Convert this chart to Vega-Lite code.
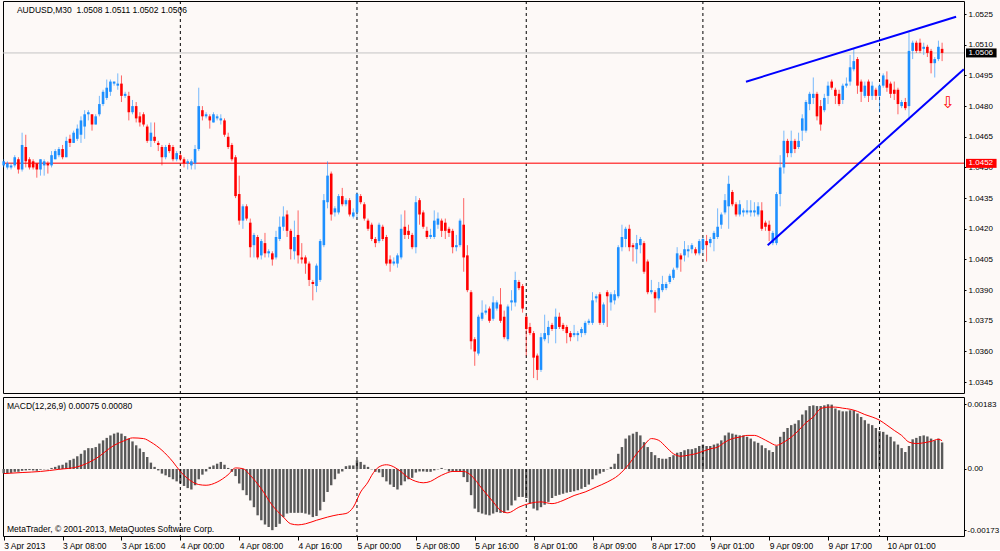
{
  "$schema": "https://vega.github.io/schema/vega-lite/v6.json",
  "background": "#fdf9f7",
  "padding": {"left": 1, "top": 0, "right": 0, "bottom": 0},
  "autosize": {"type": "pad"},
  "spacing": 2,
  "config": {
    "view": {"stroke": "#000000", "strokeWidth": 1},
    "scale": {"continuousPadding": 0},
    "font": "Liberation Sans",
    "axis": {"labelFont": "Liberation Sans", "labelFontSize": 8.5, "labelColor": "#000000", "tickColor": "#000000", "domainColor": "#000000", "grid": false, "labelOverlap": false},
    "text": {"font": "Liberation Sans", "fontSize": 8.5, "color": "#000000"}
  },
  "datasets": {
    "bars": [
      {"i":0,"o":1.0451,"h":1.0454,"l":1.0450,"c":1.0453,"m":-0.00012},
      {"i":1,"o":1.0450,"h":1.0453,"l":1.0449,"c":1.0452,"m":-0.00013},
      {"i":2,"o":1.0450,"h":1.0452,"l":1.0449,"c":1.0451,"m":-0.00011},
      {"i":3,"o":1.0451,"h":1.0456,"l":1.0450,"c":1.0455,"m":-0.00008},
      {"i":4,"o":1.0454,"h":1.0455,"l":1.0447,"c":1.0449,"m":-0.00008},
      {"i":5,"o":1.0449,"h":1.0467,"l":1.0448,"c":1.0461,"m":-0.00005},
      {"i":6,"o":1.0460,"h":1.0466,"l":1.0450,"c":1.0453,"m":-0.00004},
      {"i":7,"o":1.0454,"h":1.0455,"l":1.0449,"c":1.0450,"m":-0.00003},
      {"i":8,"o":1.0453,"h":1.0454,"l":1.0449,"c":1.0450,"m":-0.00004},
      {"i":9,"o":1.0452,"h":1.0452,"l":1.0445,"c":1.0449,"m":-0.00005},
      {"i":10,"o":1.0449,"h":1.0454,"l":1.0446,"c":1.0454,"m":-0.00002},
      {"i":11,"o":1.0451,"h":1.0454,"l":1.0446,"c":1.0453,"m":-0.00001},
      {"i":12,"o":1.0452,"h":1.0453,"l":1.0447,"c":1.0451,"m":-0.00001},
      {"i":13,"o":1.0451,"h":1.0458,"l":1.0450,"c":1.0456,"m":0.00003},
      {"i":14,"o":1.0454,"h":1.0459,"l":1.0454,"c":1.0458,"m":0.00006},
      {"i":15,"o":1.0456,"h":1.0460,"l":1.0455,"c":1.0459,"m":0.00010},
      {"i":16,"o":1.0459,"h":1.0461,"l":1.0454,"c":1.0455,"m":0.00012},
      {"i":17,"o":1.0455,"h":1.0465,"l":1.0455,"c":1.0463,"m":0.00018},
      {"i":18,"o":1.0464,"h":1.0466,"l":1.0460,"c":1.0462,"m":0.00025},
      {"i":19,"o":1.0462,"h":1.0468,"l":1.0462,"c":1.0467,"m":0.00029},
      {"i":20,"o":1.0464,"h":1.0471,"l":1.0463,"c":1.0469,"m":0.00036},
      {"i":21,"o":1.0466,"h":1.0475,"l":1.0462,"c":1.0473,"m":0.00043},
      {"i":22,"o":1.0470,"h":1.0478,"l":1.0464,"c":1.0476,"m":0.00053},
      {"i":23,"o":1.0476,"h":1.0478,"l":1.0473,"c":1.0477,"m":0.00059},
      {"i":24,"o":1.0476,"h":1.0476,"l":1.0468,"c":1.0471,"m":0.00059},
      {"i":25,"o":1.0471,"h":1.0476,"l":1.0471,"c":1.0475,"m":0.00062},
      {"i":26,"o":1.0476,"h":1.0485,"l":1.0475,"c":1.0481,"m":0.00072},
      {"i":27,"o":1.0481,"h":1.0488,"l":1.0480,"c":1.0487,"m":0.00081},
      {"i":28,"o":1.0484,"h":1.0493,"l":1.0483,"c":1.0489,"m":0.00088},
      {"i":29,"o":1.0487,"h":1.0493,"l":1.0485,"c":1.0492,"m":0.00095},
      {"i":30,"o":1.0491,"h":1.0492,"l":1.0490,"c":1.0492,"m":0.00100},
      {"i":31,"o":1.0490,"h":1.0496,"l":1.0488,"c":1.0491,"m":0.00103},
      {"i":32,"o":1.0491,"h":1.0495,"l":1.0482,"c":1.0485,"m":0.00100},
      {"i":33,"o":1.0485,"h":1.0487,"l":1.0484,"c":1.0486,"m":0.00093},
      {"i":34,"o":1.0485,"h":1.0487,"l":1.0473,"c":1.0477,"m":0.00086},
      {"i":35,"o":1.0477,"h":1.0483,"l":1.0476,"c":1.0480,"m":0.00078},
      {"i":36,"o":1.0480,"h":1.0482,"l":1.0472,"c":1.0474,"m":0.00067},
      {"i":37,"o":1.0475,"h":1.0477,"l":1.0470,"c":1.0472,"m":0.00058},
      {"i":38,"o":1.0476,"h":1.0477,"l":1.0470,"c":1.0471,"m":0.00048},
      {"i":39,"o":1.0470,"h":1.0471,"l":1.0462,"c":1.0463,"m":0.00034},
      {"i":40,"o":1.0463,"h":1.0472,"l":1.0460,"c":1.0467,"m":0.00018},
      {"i":41,"o":1.0465,"h":1.0472,"l":1.0462,"c":1.0463,"m":0.00006},
      {"i":42,"o":1.0462,"h":1.0463,"l":1.0458,"c":1.0461,"m":-0.00004},
      {"i":43,"o":1.0460,"h":1.0461,"l":1.0451,"c":1.0455,"m":-0.00013},
      {"i":44,"o":1.0455,"h":1.0461,"l":1.0454,"c":1.0460,"m":-0.00018},
      {"i":45,"o":1.0461,"h":1.0462,"l":1.0457,"c":1.0458,"m":-0.00023},
      {"i":46,"o":1.0460,"h":1.0461,"l":1.0453,"c":1.0454,"m":-0.00029},
      {"i":47,"o":1.0454,"h":1.0458,"l":1.0453,"c":1.0457,"m":-0.00035},
      {"i":48,"o":1.0456,"h":1.0457,"l":1.0453,"c":1.0454,"m":-0.00041},
      {"i":49,"o":1.0454,"h":1.0455,"l":1.0450,"c":1.0452,"m":-0.00048},
      {"i":50,"o":1.0452,"h":1.0454,"l":1.0449,"c":1.0453,"m":-0.00054},
      {"i":51,"o":1.0451,"h":1.0454,"l":1.0449,"c":1.0453,"m":-0.00058},
      {"i":52,"o":1.0452,"h":1.0461,"l":1.0449,"c":1.0459,"m":-0.00046},
      {"i":53,"o":1.0459,"h":1.0489,"l":1.0458,"c":1.0480,"m":-0.00029},
      {"i":54,"o":1.0478,"h":1.0480,"l":1.0473,"c":1.0475,"m":-0.00016},
      {"i":55,"o":1.0475,"h":1.0477,"l":1.0474,"c":1.0476,"m":-0.00007},
      {"i":56,"o":1.0475,"h":1.0476,"l":1.0469,"c":1.0473,"m":0.00006},
      {"i":57,"o":1.0472,"h":1.0477,"l":1.0472,"c":1.0476,"m":0.00010},
      {"i":58,"o":1.0474,"h":1.0476,"l":1.0473,"c":1.0475,"m":0.00015},
      {"i":59,"o":1.0473,"h":1.0476,"l":1.0471,"c":1.0474,"m":0.00020},
      {"i":60,"o":1.0473,"h":1.0474,"l":1.0465,"c":1.0466,"m":0.00012},
      {"i":61,"o":1.0465,"h":1.0467,"l":1.0459,"c":1.0460,"m":0.00003},
      {"i":62,"o":1.0461,"h":1.0462,"l":1.0453,"c":1.0454,"m":-0.00008},
      {"i":63,"o":1.0455,"h":1.0456,"l":1.0435,"c":1.0436,"m":-0.00020},
      {"i":64,"o":1.0437,"h":1.0446,"l":1.0422,"c":1.0424,"m":-0.00041},
      {"i":65,"o":1.0424,"h":1.0432,"l":1.0420,"c":1.0431,"m":-0.00060},
      {"i":66,"o":1.0431,"h":1.0432,"l":1.0424,"c":1.0425,"m":-0.00074},
      {"i":67,"o":1.0423,"h":1.0425,"l":1.0406,"c":1.0411,"m":-0.00089},
      {"i":68,"o":1.0412,"h":1.0418,"l":1.0406,"c":1.0417,"m":-0.00108},
      {"i":69,"o":1.0416,"h":1.0417,"l":1.0405,"c":1.0406,"m":-0.00131},
      {"i":70,"o":1.0407,"h":1.0415,"l":1.0405,"c":1.0414,"m":-0.00145},
      {"i":71,"o":1.0413,"h":1.0418,"l":1.0406,"c":1.0408,"m":-0.00157},
      {"i":72,"o":1.0408,"h":1.0410,"l":1.0406,"c":1.0409,"m":-0.00164},
      {"i":73,"o":1.0408,"h":1.0409,"l":1.0402,"c":1.0405,"m":-0.00173},
      {"i":74,"o":1.0406,"h":1.0419,"l":1.0405,"c":1.0416,"m":-0.00164},
      {"i":75,"o":1.0415,"h":1.0426,"l":1.0414,"c":1.0421,"m":-0.00155},
      {"i":76,"o":1.0421,"h":1.0431,"l":1.0419,"c":1.0426,"m":-0.00136},
      {"i":77,"o":1.0427,"h":1.0429,"l":1.0416,"c":1.0419,"m":-0.00126},
      {"i":78,"o":1.0419,"h":1.0420,"l":1.0405,"c":1.0410,"m":-0.00124},
      {"i":79,"o":1.0409,"h":1.0424,"l":1.0405,"c":1.0416,"m":-0.00124},
      {"i":80,"o":1.0417,"h":1.0429,"l":1.0403,"c":1.0407,"m":-0.00124},
      {"i":81,"o":1.0406,"h":1.0413,"l":1.0403,"c":1.0405,"m":-0.00124},
      {"i":82,"o":1.0406,"h":1.0407,"l":1.0398,"c":1.0403,"m":-0.00126},
      {"i":83,"o":1.0403,"h":1.0404,"l":1.0392,"c":1.0395,"m":-0.00129},
      {"i":84,"o":1.0394,"h":1.0395,"l":1.0385,"c":1.0393,"m":-0.00136},
      {"i":85,"o":1.0392,"h":1.0403,"l":1.0389,"c":1.0402,"m":-0.00133},
      {"i":86,"o":1.0395,"h":1.0415,"l":1.0394,"c":1.0414,"m":-0.00117},
      {"i":87,"o":1.0412,"h":1.0437,"l":1.0411,"c":1.0434,"m":-0.00093},
      {"i":88,"o":1.0433,"h":1.0453,"l":1.0430,"c":1.0446,"m":-0.00065},
      {"i":89,"o":1.0447,"h":1.0448,"l":1.0424,"c":1.0427,"m":-0.00046},
      {"i":90,"o":1.0428,"h":1.0431,"l":1.0426,"c":1.0430,"m":-0.00029},
      {"i":91,"o":1.0428,"h":1.0437,"l":1.0427,"c":1.0436,"m":-0.00013},
      {"i":92,"o":1.0436,"h":1.0440,"l":1.0431,"c":1.0432,"m":-0.00007},
      {"i":93,"o":1.0432,"h":1.0435,"l":1.0431,"c":1.0434,"m":0.00008},
      {"i":94,"o":1.0434,"h":1.0435,"l":1.0426,"c":1.0427,"m":0.00010},
      {"i":95,"o":1.0426,"h":1.0430,"l":1.0425,"c":1.0428,"m":0.00010},
      {"i":96,"o":1.0428,"h":1.0438,"l":1.0425,"c":1.0437,"m":0.00025},
      {"i":97,"o":1.0436,"h":1.0437,"l":1.0432,"c":1.0433,"m":0.00020},
      {"i":98,"o":1.0432,"h":1.0433,"l":1.0424,"c":1.0425,"m":0.00012},
      {"i":99,"o":1.0424,"h":1.0425,"l":1.0419,"c":1.0420,"m":0.00006},
      {"i":100,"o":1.0422,"h":1.0423,"l":1.0414,"c":1.0415,"m":-0.00001},
      {"i":101,"o":1.0415,"h":1.0416,"l":1.0411,"c":1.0413,"m":-0.00008},
      {"i":102,"o":1.0414,"h":1.0423,"l":1.0413,"c":1.0422,"m":-0.00010},
      {"i":103,"o":1.0421,"h":1.0422,"l":1.0414,"c":1.0415,"m":-0.00023},
      {"i":104,"o":1.0416,"h":1.0417,"l":1.0402,"c":1.0403,"m":-0.00035},
      {"i":105,"o":1.0405,"h":1.0407,"l":1.0399,"c":1.0403,"m":-0.00044},
      {"i":106,"o":1.0403,"h":1.0406,"l":1.0402,"c":1.0404,"m":-0.00051},
      {"i":107,"o":1.0403,"h":1.0408,"l":1.0401,"c":1.0407,"m":-0.00058},
      {"i":108,"o":1.0406,"h":1.0427,"l":1.0405,"c":1.0420,"m":-0.00046},
      {"i":109,"o":1.0421,"h":1.0429,"l":1.0415,"c":1.0417,"m":-0.00035},
      {"i":110,"o":1.0419,"h":1.0422,"l":1.0415,"c":1.0417,"m":-0.00029},
      {"i":111,"o":1.0417,"h":1.0418,"l":1.0410,"c":1.0411,"m":-0.00025},
      {"i":112,"o":1.0411,"h":1.0436,"l":1.0408,"c":1.0433,"m":-0.00010},
      {"i":113,"o":1.0434,"h":1.0435,"l":1.0422,"c":1.0427,"m":-0.00007},
      {"i":114,"o":1.0428,"h":1.0429,"l":1.0420,"c":1.0421,"m":-0.00007},
      {"i":115,"o":1.0419,"h":1.0421,"l":1.0415,"c":1.0416,"m":-0.00008},
      {"i":116,"o":1.0416,"h":1.0420,"l":1.0415,"c":1.0417,"m":-0.00008},
      {"i":117,"o":1.0416,"h":1.0429,"l":1.0415,"c":1.0424,"m":-0.00004},
      {"i":118,"o":1.0422,"h":1.0428,"l":1.0420,"c":1.0425,"m":-0.00001},
      {"i":119,"o":1.0424,"h":1.0425,"l":1.0416,"c":1.0419,"m":0.00003},
      {"i":120,"o":1.0423,"h":1.0425,"l":1.0415,"c":1.0419,"m":-0.00001},
      {"i":121,"o":1.0420,"h":1.0421,"l":1.0416,"c":1.0418,"m":-0.00007},
      {"i":122,"o":1.0419,"h":1.0420,"l":1.0408,"c":1.0411,"m":-0.00008},
      {"i":123,"o":1.0411,"h":1.0417,"l":1.0409,"c":1.0412,"m":-0.00007},
      {"i":124,"o":1.0412,"h":1.0425,"l":1.0411,"c":1.0424,"m":-0.00008},
      {"i":125,"o":1.0422,"h":1.0435,"l":1.0399,"c":1.0406,"m":-0.00023},
      {"i":126,"o":1.0407,"h":1.0412,"l":1.0389,"c":1.0390,"m":-0.00037},
      {"i":127,"o":1.0389,"h":1.0390,"l":1.0361,"c":1.0365,"m":-0.00074},
      {"i":128,"o":1.0366,"h":1.0367,"l":1.0353,"c":1.0360,"m":-0.00112},
      {"i":129,"o":1.0359,"h":1.0378,"l":1.0358,"c":1.0377,"m":-0.00122},
      {"i":130,"o":1.0376,"h":1.0385,"l":1.0375,"c":1.0379,"m":-0.00126},
      {"i":131,"o":1.0379,"h":1.0383,"l":1.0378,"c":1.0380,"m":-0.00129},
      {"i":132,"o":1.0381,"h":1.0382,"l":1.0374,"c":1.0375,"m":-0.00131},
      {"i":133,"o":1.0376,"h":1.0387,"l":1.0375,"c":1.0384,"m":-0.00126},
      {"i":134,"o":1.0381,"h":1.0385,"l":1.0380,"c":1.0384,"m":-0.00122},
      {"i":135,"o":1.0383,"h":1.0391,"l":1.0374,"c":1.0375,"m":-0.00124},
      {"i":136,"o":1.0377,"h":1.0380,"l":1.0366,"c":1.0367,"m":-0.00124},
      {"i":137,"o":1.0366,"h":1.0383,"l":1.0365,"c":1.0382,"m":-0.00117},
      {"i":138,"o":1.0384,"h":1.0390,"l":1.0380,"c":1.0385,"m":-0.00103},
      {"i":139,"o":1.0384,"h":1.0399,"l":1.0382,"c":1.0395,"m":-0.00089},
      {"i":140,"o":1.0394,"h":1.0395,"l":1.0390,"c":1.0391,"m":-0.00079},
      {"i":141,"o":1.0392,"h":1.0393,"l":1.0379,"c":1.0381,"m":-0.00079},
      {"i":142,"o":1.0377,"h":1.0378,"l":1.0358,"c":1.0371,"m":-0.00082},
      {"i":143,"o":1.0372,"h":1.0374,"l":1.0368,"c":1.0369,"m":-0.00098},
      {"i":144,"o":1.0369,"h":1.0370,"l":1.0347,"c":1.0357,"m":-0.00112},
      {"i":145,"o":1.0358,"h":1.0359,"l":1.0346,"c":1.0351,"m":-0.00117},
      {"i":146,"o":1.0351,"h":1.0369,"l":1.0350,"c":1.0367,"m":-0.00108},
      {"i":147,"o":1.0366,"h":1.0378,"l":1.0365,"c":1.0369,"m":-0.00101},
      {"i":148,"o":1.0368,"h":1.0375,"l":1.0364,"c":1.0372,"m":-0.00093},
      {"i":149,"o":1.0373,"h":1.0374,"l":1.0370,"c":1.0371,"m":-0.00082},
      {"i":150,"o":1.0371,"h":1.0381,"l":1.0364,"c":1.0377,"m":-0.00076},
      {"i":151,"o":1.0377,"h":1.0379,"l":1.0371,"c":1.0372,"m":-0.00073},
      {"i":152,"o":1.0373,"h":1.0374,"l":1.0370,"c":1.0371,"m":-0.00070},
      {"i":153,"o":1.0372,"h":1.0373,"l":1.0364,"c":1.0369,"m":-0.00067},
      {"i":154,"o":1.0369,"h":1.0370,"l":1.0365,"c":1.0367,"m":-0.00065},
      {"i":155,"o":1.0368,"h":1.0373,"l":1.0367,"c":1.0369,"m":-0.00063},
      {"i":156,"o":1.0368,"h":1.0370,"l":1.0365,"c":1.0369,"m":-0.00060},
      {"i":157,"o":1.0369,"h":1.0372,"l":1.0367,"c":1.0371,"m":-0.00056},
      {"i":158,"o":1.0369,"h":1.0375,"l":1.0368,"c":1.0374,"m":-0.00051},
      {"i":159,"o":1.0374,"h":1.0376,"l":1.0373,"c":1.0375,"m":-0.00044},
      {"i":160,"o":1.0374,"h":1.0389,"l":1.0373,"c":1.0385,"m":-0.00029},
      {"i":161,"o":1.0386,"h":1.0388,"l":1.0384,"c":1.0387,"m":-0.00018},
      {"i":162,"o":1.0388,"h":1.0389,"l":1.0373,"c":1.0374,"m":-0.00013},
      {"i":163,"o":1.0374,"h":1.0384,"l":1.0373,"c":1.0383,"m":-0.00008},
      {"i":164,"o":1.0389,"h":1.0390,"l":1.0372,"c":1.0387,"m":-0.00001},
      {"i":165,"o":1.0384,"h":1.0389,"l":1.0380,"c":1.0388,"m":0.00006},
      {"i":166,"o":1.0385,"h":1.0390,"l":1.0383,"c":1.0388,"m":0.00015},
      {"i":167,"o":1.0387,"h":1.0412,"l":1.0386,"c":1.0411,"m":0.00043},
      {"i":168,"o":1.0411,"h":1.0422,"l":1.0409,"c":1.0416,"m":0.00062},
      {"i":169,"o":1.0415,"h":1.0421,"l":1.0411,"c":1.0420,"m":0.00086},
      {"i":170,"o":1.0420,"h":1.0422,"l":1.0409,"c":1.0411,"m":0.00095},
      {"i":171,"o":1.0412,"h":1.0413,"l":1.0404,"c":1.0411,"m":0.00100},
      {"i":172,"o":1.0410,"h":1.0417,"l":1.0403,"c":1.0413,"m":0.00105},
      {"i":173,"o":1.0412,"h":1.0416,"l":1.0408,"c":1.0415,"m":0.00095},
      {"i":174,"o":1.0413,"h":1.0414,"l":1.0398,"c":1.0399,"m":0.00076},
      {"i":175,"o":1.0404,"h":1.0405,"l":1.0388,"c":1.0389,"m":0.00062},
      {"i":176,"o":1.0389,"h":1.0395,"l":1.0388,"c":1.0390,"m":0.00048},
      {"i":177,"o":1.0389,"h":1.0390,"l":1.0379,"c":1.0386,"m":0.00039},
      {"i":178,"o":1.0386,"h":1.0394,"l":1.0385,"c":1.0391,"m":0.00031},
      {"i":179,"o":1.0390,"h":1.0397,"l":1.0389,"c":1.0393,"m":0.00029},
      {"i":180,"o":1.0391,"h":1.0394,"l":1.0390,"c":1.0393,"m":0.00029},
      {"i":181,"o":1.0394,"h":1.0398,"l":1.0393,"c":1.0397,"m":0.00034},
      {"i":182,"o":1.0396,"h":1.0401,"l":1.0395,"c":1.0400,"m":0.00039},
      {"i":183,"o":1.0401,"h":1.0411,"l":1.0400,"c":1.0408,"m":0.00046},
      {"i":184,"o":1.0407,"h":1.0408,"l":1.0399,"c":1.0405,"m":0.00048},
      {"i":185,"o":1.0407,"h":1.0414,"l":1.0404,"c":1.0410,"m":0.00053},
      {"i":186,"o":1.0409,"h":1.0412,"l":1.0406,"c":1.0410,"m":0.00056},
      {"i":187,"o":1.0410,"h":1.0413,"l":1.0408,"c":1.0412,"m":0.00056},
      {"i":188,"o":1.0410,"h":1.0411,"l":1.0407,"c":1.0408,"m":0.00059},
      {"i":189,"o":1.0408,"h":1.0415,"l":1.0407,"c":1.0414,"m":0.00065},
      {"i":190,"o":1.0410,"h":1.0416,"l":1.0408,"c":1.0415,"m":0.00069},
      {"i":191,"o":1.0414,"h":1.0417,"l":1.0404,"c":1.0412,"m":0.00065},
      {"i":192,"o":1.0413,"h":1.0416,"l":1.0411,"c":1.0415,"m":0.00065},
      {"i":193,"o":1.0415,"h":1.0419,"l":1.0409,"c":1.0418,"m":0.00069},
      {"i":194,"o":1.0416,"h":1.0430,"l":1.0415,"c":1.0421,"m":0.00072},
      {"i":195,"o":1.0422,"h":1.0428,"l":1.0420,"c":1.0427,"m":0.00081},
      {"i":196,"o":1.0428,"h":1.0437,"l":1.0427,"c":1.0434,"m":0.00095},
      {"i":197,"o":1.0431,"h":1.0446,"l":1.0420,"c":1.0442,"m":0.00103},
      {"i":198,"o":1.0438,"h":1.0439,"l":1.0431,"c":1.0432,"m":0.00100},
      {"i":199,"o":1.0432,"h":1.0433,"l":1.0426,"c":1.0427,"m":0.00097},
      {"i":200,"o":1.0427,"h":1.0434,"l":1.0426,"c":1.0432,"m":0.00095},
      {"i":201,"o":1.0428,"h":1.0430,"l":1.0426,"c":1.0429,"m":0.00095},
      {"i":202,"o":1.0428,"h":1.0434,"l":1.0427,"c":1.0429,"m":0.00091},
      {"i":203,"o":1.0428,"h":1.0434,"l":1.0426,"c":1.0429,"m":0.00086},
      {"i":204,"o":1.0428,"h":1.0433,"l":1.0426,"c":1.0429,"m":0.00078},
      {"i":205,"o":1.0427,"h":1.0433,"l":1.0426,"c":1.0431,"m":0.00074},
      {"i":206,"o":1.0429,"h":1.0433,"l":1.0419,"c":1.0420,"m":0.00067},
      {"i":207,"o":1.0423,"h":1.0424,"l":1.0419,"c":1.0421,"m":0.00059},
      {"i":208,"o":1.0422,"h":1.0424,"l":1.0414,"c":1.0419,"m":0.00053},
      {"i":209,"o":1.0413,"h":1.0419,"l":1.0412,"c":1.0418,"m":0.00048},
      {"i":210,"o":1.0413,"h":1.0438,"l":1.0412,"c":1.0437,"m":0.00065},
      {"i":211,"o":1.0437,"h":1.0456,"l":1.0431,"c":1.0450,"m":0.00091},
      {"i":212,"o":1.0450,"h":1.0468,"l":1.0447,"c":1.0463,"m":0.00105},
      {"i":213,"o":1.0463,"h":1.0464,"l":1.0455,"c":1.0457,"m":0.00116},
      {"i":214,"o":1.0457,"h":1.0468,"l":1.0455,"c":1.0463,"m":0.00124},
      {"i":215,"o":1.0463,"h":1.0464,"l":1.0457,"c":1.0459,"m":0.00128},
      {"i":216,"o":1.0460,"h":1.0467,"l":1.0459,"c":1.0463,"m":0.00138},
      {"i":217,"o":1.0468,"h":1.0476,"l":1.0463,"c":1.0474,"m":0.00154},
      {"i":218,"o":1.0468,"h":1.0483,"l":1.0467,"c":1.0482,"m":0.00166},
      {"i":219,"o":1.0481,"h":1.0487,"l":1.0478,"c":1.0486,"m":0.00178},
      {"i":220,"o":1.0484,"h":1.0494,"l":1.0481,"c":1.0486,"m":0.00180},
      {"i":221,"o":1.0486,"h":1.0487,"l":1.0473,"c":1.0475,"m":0.00178},
      {"i":222,"o":1.0480,"h":1.0483,"l":1.0468,"c":1.0471,"m":0.00178},
      {"i":223,"o":1.0478,"h":1.0486,"l":1.0477,"c":1.0484,"m":0.00180},
      {"i":224,"o":1.0485,"h":1.0492,"l":1.0481,"c":1.0490,"m":0.00183},
      {"i":225,"o":1.0492,"h":1.0493,"l":1.0488,"c":1.0489,"m":0.00182},
      {"i":226,"o":1.0488,"h":1.0489,"l":1.0481,"c":1.0485,"m":0.00171},
      {"i":227,"o":1.0486,"h":1.0488,"l":1.0480,"c":1.0481,"m":0.00166},
      {"i":228,"o":1.0483,"h":1.0491,"l":1.0481,"c":1.0490,"m":0.00163},
      {"i":229,"o":1.0490,"h":1.0494,"l":1.0489,"c":1.0491,"m":0.00163},
      {"i":230,"o":1.0492,"h":1.0505,"l":1.0490,"c":1.0499,"m":0.00166},
      {"i":231,"o":1.0498,"h":1.0508,"l":1.0497,"c":1.0502,"m":0.00166},
      {"i":232,"o":1.0503,"h":1.0504,"l":1.0486,"c":1.0490,"m":0.00157},
      {"i":233,"o":1.0492,"h":1.0493,"l":1.0482,"c":1.0487,"m":0.00147},
      {"i":234,"o":1.0485,"h":1.0492,"l":1.0484,"c":1.0490,"m":0.00138},
      {"i":235,"o":1.0492,"h":1.0493,"l":1.0482,"c":1.0485,"m":0.00128},
      {"i":236,"o":1.0485,"h":1.0492,"l":1.0483,"c":1.0490,"m":0.00124},
      {"i":237,"o":1.0488,"h":1.0489,"l":1.0483,"c":1.0485,"m":0.00116},
      {"i":238,"o":1.0485,"h":1.0491,"l":1.0477,"c":1.0490,"m":0.00107},
      {"i":239,"o":1.0490,"h":1.0496,"l":1.0489,"c":1.0495,"m":0.00105},
      {"i":240,"o":1.0493,"h":1.0497,"l":1.0487,"c":1.0489,"m":0.00097},
      {"i":241,"o":1.0491,"h":1.0492,"l":1.0484,"c":1.0486,"m":0.00091},
      {"i":242,"o":1.0488,"h":1.0492,"l":1.0483,"c":1.0486,"m":0.00078},
      {"i":243,"o":1.0488,"h":1.0489,"l":1.0476,"c":1.0481,"m":0.00069},
      {"i":244,"o":1.0480,"h":1.0483,"l":1.0479,"c":1.0482,"m":0.00059},
      {"i":245,"o":1.0482,"h":1.0484,"l":1.0478,"c":1.0479,"m":0.00048},
      {"i":246,"o":1.0480,"h":1.0516,"l":1.0473,"c":1.0507,"m":0.00065},
      {"i":247,"o":1.0507,"h":1.0512,"l":1.0503,"c":1.0511,"m":0.00084},
      {"i":248,"o":1.0511,"h":1.0512,"l":1.0506,"c":1.0507,"m":0.00088},
      {"i":249,"o":1.0511,"h":1.0513,"l":1.0506,"c":1.0507,"m":0.00093},
      {"i":250,"o":1.0508,"h":1.0511,"l":1.0505,"c":1.0509,"m":0.00095},
      {"i":251,"o":1.0509,"h":1.0510,"l":1.0504,"c":1.0506,"m":0.00092},
      {"i":252,"o":1.0507,"h":1.0508,"l":1.0496,"c":1.0501,"m":0.00086},
      {"i":253,"o":1.0501,"h":1.0504,"l":1.0494,"c":1.0503,"m":0.00081},
      {"i":254,"o":1.0503,"h":1.0512,"l":1.0502,"c":1.0509,"m":0.00086},
      {"i":255,"o":1.0508,"h":1.0511,"l":1.0502,"c":1.0506,"m":0.00075}
    ],
    "signal": [
      {"i":0,"s":-0.00013},{"i":5,"s":-0.00010},{"i":10,"s":-0.00007},{"i":15,"s":-0.00001},
      {"i":20,"s":0.00006},{"i":25,"s":0.00029},{"i":30,"s":0.00067},{"i":33,"s":0.00081},
      {"i":35,"s":0.00088},{"i":38,"s":0.00086},{"i":40,"s":0.00076},{"i":43,"s":0.00053},
      {"i":46,"s":0.00020},{"i":48,"s":-0.00007},{"i":50,"s":-0.00027},{"i":53,"s":-0.00044},
      {"i":55,"s":-0.00046},{"i":58,"s":-0.00037},{"i":61,"s":-0.00016},{"i":63,"s":0.00003},
      {"i":65,"s":0.00001},{"i":67,"s":-0.00018},{"i":70,"s":-0.00056},{"i":73,"s":-0.00103},
      {"i":76,"s":-0.00136},{"i":78,"s":-0.00155},{"i":80,"s":-0.00158},{"i":82,"s":-0.00155},
      {"i":85,"s":-0.00145},{"i":88,"s":-0.00136},{"i":91,"s":-0.00129},{"i":93,"s":-0.00126},
      {"i":95,"s":-0.00108},{"i":97,"s":-0.00065},{"i":99,"s":-0.00037},{"i":100,"s":-0.00018},
      {"i":102,"s":0.00006},{"i":104,"s":0.00012},{"i":106,"s":0.00006},{"i":108,"s":-0.00008},
      {"i":110,"s":-0.00025},{"i":112,"s":-0.00035},{"i":114,"s":-0.00039},{"i":116,"s":-0.00035},
      {"i":118,"s":-0.00023},{"i":120,"s":-0.00013},{"i":122,"s":-0.00007},{"i":125,"s":-0.00007},
      {"i":127,"s":-0.00018},{"i":130,"s":-0.00056},{"i":133,"s":-0.00093},{"i":135,"s":-0.00117},
      {"i":137,"s":-0.00124},{"i":140,"s":-0.00108},{"i":143,"s":-0.00097},{"i":146,"s":-0.00093},
      {"i":149,"s":-0.00098},{"i":152,"s":-0.00089},{"i":155,"s":-0.00075},{"i":158,"s":-0.00065},
      {"i":161,"s":-0.00051},{"i":164,"s":-0.00037},{"i":167,"s":-0.00018},{"i":170,"s":0.00015},
      {"i":172,"s":0.00043},{"i":174,"s":0.00067},{"i":176,"s":0.00086},{"i":178,"s":0.00081},
      {"i":180,"s":0.00062},{"i":182,"s":0.00043},{"i":184,"s":0.00036},{"i":186,"s":0.00039},
      {"i":188,"s":0.00043},{"i":190,"s":0.00050},{"i":192,"s":0.00057},{"i":194,"s":0.00062},
      {"i":196,"s":0.00076},{"i":198,"s":0.00086},{"i":200,"s":0.00090},{"i":202,"s":0.00095},
      {"i":204,"s":0.00095},{"i":206,"s":0.00087},{"i":208,"s":0.00076},{"i":210,"s":0.00067},
      {"i":212,"s":0.00076},{"i":214,"s":0.00090},{"i":216,"s":0.00109},{"i":218,"s":0.00131},
      {"i":220,"s":0.00147},{"i":222,"s":0.00171},{"i":224,"s":0.00175},{"i":226,"s":0.00175},
      {"i":228,"s":0.00172},{"i":230,"s":0.00169},{"i":232,"s":0.00163},{"i":234,"s":0.00154},
      {"i":236,"s":0.00147},{"i":238,"s":0.00138},{"i":240,"s":0.00124},{"i":242,"s":0.00109},
      {"i":244,"s":0.00095},{"i":246,"s":0.00076},{"i":248,"s":0.00072},{"i":250,"s":0.00074},
      {"i":252,"s":0.00078},{"i":254,"s":0.00084},{"i":255,"s":0.00080}
    ],
    "days": [{"i":48},{"i":96},{"i":142},{"i":190},{"i":238}],
    "levels": [{"kind":"alert","p":1.0452},{"kind":"bid","p":1.0506}],
    "trend": [
      {"line":"upper","i":201.7,"p":1.04919},
      {"line":"upper","i":258.8,"p":1.05237},
      {"line":"lower","i":207.6,"p":1.0412},
      {"line":"lower","i":260.9,"p":1.0498}
    ]
  },
  "vconcat": [
    {
      "width": 961,
      "height": 392,
      "resolve": {"axis": {"x": "independent", "y": "independent"}},
      "layer": [
        {
          "data": {"name": "days"},
          "mark": {"type": "rule", "color": "#000000", "strokeWidth": 1, "strokeDash": [3, 3]},
          "encoding": {
            "x": {"field": "i", "type": "quantitative", "scale": {"domain": [-0.19, 260.95], "nice": false, "zero": false, "padding": 0}, "axis": null}
          }
        },
        {
          "data": {"name": "levels"},
          "transform": [{"filter": "datum.kind == 'bid'"}],
          "mark": {"type": "rule", "color": "#c4c4c4", "strokeWidth": 1},
          "encoding": {
            "y": {
              "field": "p", "type": "quantitative",
              "scale": {"domain": [1.03397, 1.05314], "nice": false, "zero": false, "padding": 0},
              "axis": {
                "orient": "right", "title": null, "domain": false, "grid": false,
                "values": [1.0345, 1.036, 1.0375, 1.039, 1.0405, 1.042, 1.0435, 1.045, 1.0465, 1.048, 1.0495, 1.051, 1.0525],
                "format": ".4f", "tickSize": 2, "labelPadding": 2, "labelOverlap": false, "labelFlush": false, "labelBaseline": "middle", "labelFontSize": 8
              }
            }
          }
        },
        {
          "data": {"name": "levels"},
          "transform": [{"filter": "datum.kind == 'alert'"}],
          "mark": {"type": "rule", "color": "#ff2020", "strokeWidth": 1.5, "opacity": 0.8},
          "encoding": {
            "y": {"field": "p", "type": "quantitative", "axis": null}
          }
        },
        {
          "data": {"name": "bars"},
          "mark": {"type": "rule", "strokeWidth": 1, "opacity": 0.6},
          "encoding": {
            "x": {"field": "i", "type": "quantitative", "axis": null},
            "y": {"field": "l", "type": "quantitative", "axis": null},
            "y2": {"field": "h"},
            "color": {"condition": {"test": "datum.c >= datum.o", "value": "#1e90ff"}, "value": "#ff0000"}
          }
        },
        {
          "data": {"name": "bars"},
          "mark": {"type": "bar", "width": 2.6},
          "encoding": {
            "x": {"field": "i", "type": "quantitative", "axis": null},
            "y": {"field": "o", "type": "quantitative", "axis": null},
            "y2": {"field": "c"},
            "color": {"condition": {"test": "datum.c >= datum.o", "value": "#1e90ff"}, "value": "#ff0000"}
          }
        },
        {
          "data": {"name": "trend"},
          "mark": {"type": "line", "color": "#0000ff", "strokeWidth": 2},
          "encoding": {
            "x": {"field": "i", "type": "quantitative", "axis": null},
            "y": {"field": "p", "type": "quantitative", "axis": null},
            "detail": {"field": "line"}
          }
        },
        {
          "data": {"values": [{}]},
          "mark": {"type": "text", "font": "DejaVu Sans", "fontSize": 16, "color": "#ff0000", "align": "center", "baseline": "middle"},
          "encoding": {
            "x": {"datum": 256.5, "type": "quantitative", "axis": null},
            "y": {"datum": 1.04813, "type": "quantitative", "axis": null},
            "text": {"value": "⇩"}
          }
        },
        {
          "data": {"values": [{}]},
          "mark": {"type": "text", "align": "left", "baseline": "middle"},
          "encoding": {
            "x": {"datum": 3.6, "type": "quantitative", "axis": null},
            "y": {"datum": 1.05272, "type": "quantitative", "axis": null},
            "text": {"value": "AUDUSD,M30\u00a0 1.0508 1.0511 1.0502 1.0506"}
          }
        },
        {
          "data": {"name": "levels"},
          "mark": {"type": "bar", "height": 9},
          "encoding": {
            "x": {"datum": 261.5, "type": "quantitative", "axis": null},
            "x2": {"datum": 269.8},
            "y": {"field": "p", "type": "quantitative", "axis": null},
            "color": {"condition": {"test": "datum.kind == 'bid'", "value": "#000000"}, "value": "#ff0000"}
          }
        },
        {
          "data": {"name": "levels"},
          "mark": {"type": "text", "align": "left", "baseline": "middle", "color": "#ffffff", "fontSize": 8},
          "encoding": {
            "x": {"datum": 262.2, "type": "quantitative", "axis": null},
            "y": {"field": "p", "type": "quantitative", "axis": null},
            "text": {"field": "p", "type": "quantitative", "format": ".4f"}
          }
        }
      ]
    },
    {
      "width": 961,
      "height": 139,
      "resolve": {"axis": {"x": "independent", "y": "independent"}},
      "layer": [
        {
          "data": {"name": "bars"},
          "mark": {"type": "bar", "width": 2.4, "color": "#595959"},
          "encoding": {
            "x": {
              "field": "i", "type": "quantitative",
              "scale": {"domain": [-0.19, 260.95], "nice": false, "zero": false, "padding": 0},
              "axis": {
                "title": null, "domain": false, "grid": false,
                "values": [0, 16, 32, 48, 64, 80, 96, 112, 128, 144, 160, 176, 192, 208, 224, 240],
                "labelExpr": "['3 Apr 2013','3 Apr 08:00','3 Apr 16:00','4 Apr 00:00','4 Apr 08:00','4 Apr 16:00','5 Apr 00:00','5 Apr 08:00','5 Apr 16:00','8 Apr 01:00','8 Apr 09:00','8 Apr 17:00','9 Apr 01:00','9 Apr 09:00','9 Apr 17:00','10 Apr 01:00'][round(datum.value / 16)]",
                "labelAlign": "left", "labelBaseline": "top", "tickSize": 4, "labelPadding": 1,
                "labelFlush": false, "labelOverlap": false, "labelBound": false
              }
            },
            "y": {
              "field": "m", "type": "quantitative",
              "scale": {"domain": [-0.001895, 0.002036], "nice": false, "zero": false, "padding": 0},
              "axis": {
                "orient": "right", "title": null, "domain": false, "grid": false,
                "values": [-0.00173, 0, 0.00183],
                "labelExpr": "datum.value < 0 ? '-0.00173' : (datum.value > 0 ? '0.00183' : '0.00')",
                "tickSize": 2, "labelPadding": 1, "labelOverlap": false, "labelFlush": false, "labelBaseline": "middle", "labelFontSize": 8
              }
            },
            "y2": {"datum": 0}
          }
        },
        {
          "data": {"name": "days"},
          "mark": {"type": "rule", "color": "#000000", "strokeWidth": 1, "strokeDash": [3, 3]},
          "encoding": {
            "x": {"field": "i", "type": "quantitative", "axis": null}
          }
        },
        {
          "data": {"name": "signal"},
          "mark": {"type": "line", "color": "#ff0000", "strokeWidth": 1, "interpolate": "monotone"},
          "encoding": {
            "x": {"field": "i", "type": "quantitative", "axis": null},
            "y": {"field": "s", "type": "quantitative", "axis": null}
          }
        },
        {
          "data": {"values": [{}]},
          "mark": {"type": "text", "align": "left", "baseline": "middle"},
          "encoding": {
            "x": {"datum": 0.9, "type": "quantitative", "axis": null},
            "y": {"datum": 0.00178, "type": "quantitative", "axis": null},
            "text": {"value": "MACD(12,26,9) 0.00075 0.00080"}
          }
        },
        {
          "data": {"values": [{}]},
          "mark": {"type": "text", "align": "left", "baseline": "middle"},
          "encoding": {
            "x": {"datum": 0.9, "type": "quantitative", "axis": null},
            "y": {"datum": -0.00169, "type": "quantitative", "axis": null},
            "text": {"value": "MetaTrader, © 2001-2013, MetaQuotes Software Corp."}
          }
        }
      ]
    }
  ]
}
